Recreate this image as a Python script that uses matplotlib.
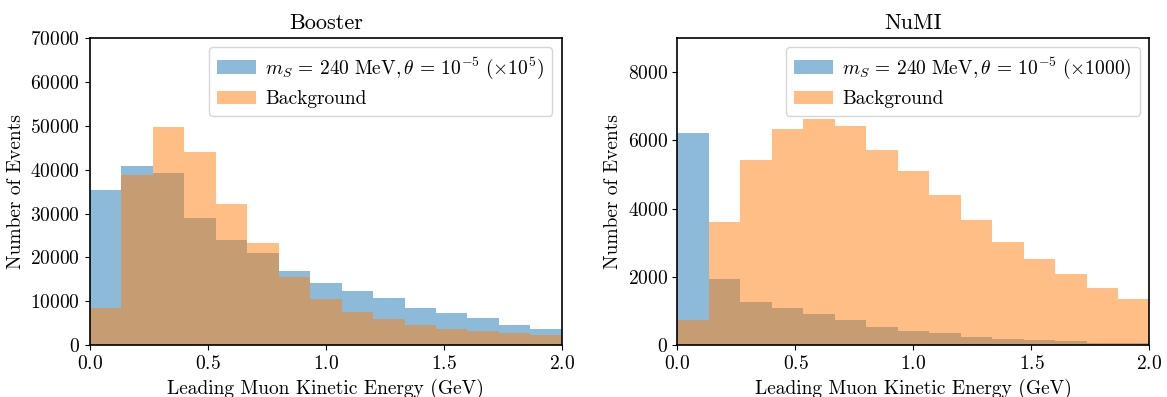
import numpy as np
import matplotlib
matplotlib.use("Agg")
import matplotlib.pyplot as plt
from matplotlib import rc

rc('font', family='serif', serif=['cmr10'], size=14)
rc('mathtext', fontset='cm')
rc('axes', linewidth=1.2, unicode_minus=False, titlesize=16, labelsize=14)
rc('legend', handletextpad=0.5)
plt.rcParams['axes.formatter.use_mathtext'] = True

# 15 bins between 0 and 2 GeV
bin_edges = np.linspace(0.0, 2.0, 16)

booster_signal = [35300, 40800, 39300, 29000, 23900, 21000, 16900, 14300,
                  12300, 10700, 8400, 7400, 6150, 4600, 3650]
booster_background = [8500, 38700, 49600, 43900, 32100, 23400, 15500, 10500,
                      7600, 5900, 4550, 3650, 3250, 2750, 2300]

numi_signal = [6220, 1930, 1260, 1090, 905, 730, 540, 420,
               350, 245, 185, 155, 125, 80, 78]
numi_background = [735, 3600, 5420, 6330, 6610, 6420, 5710, 5090,
                   4410, 3680, 3020, 2520, 2080, 1670, 1350]

centers = 0.5 * (bin_edges[1:] + bin_edges[:-1])

fig, (ax1, ax2) = plt.subplots(1, 2, figsize=(11.67, 3.97), dpi=100)
fig.subplots_adjust(left=0.077, right=0.985, bottom=0.13, top=0.905, wspace=0.245)

#Booster panel
ax1.hist(centers, bins=bin_edges, weights=booster_signal, alpha=0.5,
         label=r'$m_S\,=\,240\ \mathrm{MeV}, \theta\,=\,10^{-5}\ (\times 10^5)$')
ax1.hist(centers, bins=bin_edges, weights=booster_background, alpha=0.5,
         label='Background')
ax1.set_xlim(0, 2)
ax1.set_ylim(0, 70000)
ax1.set_xticks([0.0, 0.5, 1.0, 1.5, 2.0])
ax1.set_xlabel('Leading Muon Kinetic Energy (GeV)')
ax1.set_ylabel('Number of Events')
ax1.set_title('Booster')
ax1.legend(loc='upper right')

#NuMI panel
ax2.hist(centers, bins=bin_edges, weights=numi_signal, alpha=0.5,
         label=r'$m_S\,=\,240\ \mathrm{MeV}, \theta\,=\,10^{-5}\ (\times 1000)$')
ax2.hist(centers, bins=bin_edges, weights=numi_background, alpha=0.5,
         label='Background')
ax2.set_xlim(0, 2)
ax2.set_ylim(0, 9000)
ax2.set_xticks([0.0, 0.5, 1.0, 1.5, 2.0])
ax2.set_yticks([0, 2000, 4000, 6000, 8000])
ax2.set_xlabel('Leading Muon Kinetic Energy (GeV)')
ax2.set_ylabel('Number of Events')
ax2.set_title('NuMI')
ax2.legend(loc='upper right')

plt.savefig('out.png')
